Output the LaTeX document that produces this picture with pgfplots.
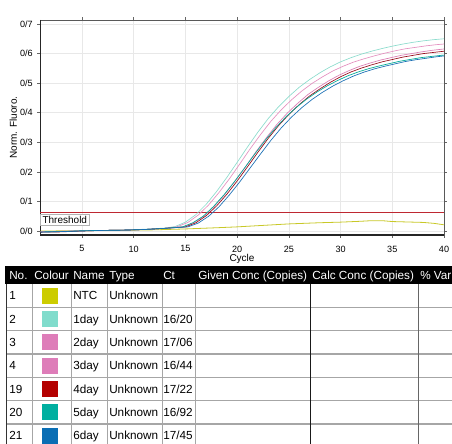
\documentclass[border=0pt]{standalone}
\usepackage{pgfplots}
\pgfplotsset{compat=1.18}
\usepackage{fontspec}
\setmainfont{Liberation Sans}

\definecolor{ntc}{RGB}{200,200,40}
\definecolor{d1}{RGB}{140,220,205}
\definecolor{d2}{RGB}{220,125,180}
\definecolor{d3}{RGB}{228,145,192}
\definecolor{d4}{RGB}{150,10,25}
\definecolor{d5}{RGB}{0,170,150}
\definecolor{d6}{RGB}{25,110,180}
\definecolor{thr}{RGB}{190,40,50}
\definecolor{sw1}{RGB}{204,204,0}
\definecolor{sw2}{RGB}{128,220,204}
\definecolor{sw3}{RGB}{222,125,185}
\definecolor{sw4}{RGB}{180,0,0}
\definecolor{sw5}{RGB}{0,175,160}
\definecolor{sw6}{RGB}{10,110,180}

\newcommand{\tabfont}{\fontsize{8.8}{10}\selectfont}
\newcommand{\tabrow}[5]{%
  \pgfmathsetmacro\yc{295.6+23.33*(#1-1)}%
  \node[anchor=base west] at (9,\yc+4.2) {#2};
  \fill[#3] (42,\yc-8) rectangle (58,\yc+8);
  \node[anchor=base west] at (73,\yc+4.2) {#4};
  \node[anchor=base west] at (109,\yc+4.2) {Unknown};
  \node[anchor=base west] at (163,\yc+4.2) {#5};
}

\begin{document}
\begin{tikzpicture}
\path[use as bounding box] (0,0) rectangle (339pt,332.25pt);

\begin{axis}[
  at={(30pt,156pt)}, anchor=south west,
  scale only axis, width=303pt, height=161.25pt,
  xmin=0.94, xmax=40, ymin=-0.0135, ymax=0.7135,
  xtick={5,10,15,20,25,30,35,40},
  xticklabels={5,10,15,20,25,30,35,40},
  ytick={0,0.1,0.2,0.3,0.4,0.5,0.6,0.7},
  yticklabels={0/0,0/1,0/2,0/3,0/4,0/5,0/6,0/7},
  grid=major, major grid style={gray!18, line width=0.4pt},
  tick align=outside, major tick length=2pt,
  tick style={black!60, line width=0.4pt},
  axis line style={black!65, line width=0.6pt},
  ticklabel style={font=\fontsize{6.8}{8}\selectfont},
  xticklabel style={yshift=-2.5pt},
  xlabel={Cycle}, ylabel={Norm. Fluoro.},
  label style={font=\fontsize{7.5}{9}\selectfont, inner sep=0pt},
  xlabel style={at={(axis description cs:0.5,0)}, anchor=north, yshift=-14.5pt},
  ylabel style={at={([xshift=-17pt]axis description cs:0,0.5)}, anchor=south},
]
\draw[line width=1.3pt, black!85] (rel axis cs:0,1) -- (rel axis cs:0,0) -- (rel axis cs:1,0);

\addplot[thr, line width=0.7pt] coordinates {(0.94,0.064) (40,0.064)};
\node[anchor=north west, draw=gray!60, fill=white, inner sep=1.5pt,
      font=\fontsize{7.5}{9}\selectfont] at (axis cs:0.97,0.0575) {Threshold};

% NTC
\addplot[ntc, line width=0.6pt] coordinates {
(1,0.000) (5,0.001) (10,0.003) (12,0.004) (15,0.007) (18,0.011) (20,0.014)
(22,0.018) (25,0.024) (28,0.028) (30,0.030) (32,0.033) (33,0.035) (34,0.035)
(35,0.032) (37,0.030) (38,0.029) (39,0.026) (40,0.021)};

% 1day
\addplot[d1, line width=0.5pt] coordinates {
(1,-0.003) (3,-0.001) (5,0.001) (7,0.002) (9,0.003) (11,0.006) (12,0.008) (13,0.010)
(14,0.015) (15,0.030) (16,0.055) (17,0.090) (18,0.133) (19,0.181) (20,0.232)
(21,0.284) (22,0.334) (23,0.380) (24,0.420) (25,0.455) (26,0.486) (27,0.512)
(28,0.535) (29,0.555) (30,0.572) (31,0.586) (32,0.598) (33,0.608) (34,0.617)
(35,0.625) (36,0.632) (37,0.638) (38,0.643) (39,0.647) (40,0.650)};

% 3day
\addplot[d3, line width=0.5pt] coordinates {
(1,-0.002) (3,-0.001) (5,0.001) (7,0.002) (9,0.003) (11,0.005) (13,0.009)
(14.24,0.015) (15.24,0.029) (16.24,0.054) (17.24,0.088) (18.24,0.130) (19.24,0.176)
(20.24,0.226) (21.24,0.277) (22.24,0.325) (23.24,0.370) (24.24,0.409) (25.24,0.443)
(26.24,0.473) (27.24,0.499) (28.24,0.521) (29.24,0.541) (30.24,0.557) (31.24,0.571)
(32.24,0.582) (33.24,0.592) (34.24,0.601) (35.24,0.609) (36.24,0.616) (37.24,0.621)
(38.24,0.626) (39.24,0.630) (40.24,0.633)};

% 2day
\addplot[d2, line width=0.5pt] coordinates {
(1,-0.002) (3,-0.001) (5,0.001) (7,0.002) (9,0.003) (11,0.005) (13,0.009)
(14.86,0.014) (15.86,0.029) (16.86,0.052) (17.86,0.086) (18.86,0.126) (19.86,0.172)
(20.86,0.220) (21.86,0.270) (22.86,0.317) (23.86,0.361) (24.86,0.399) (25.86,0.432)
(26.86,0.462) (27.86,0.486) (28.86,0.508) (29.86,0.527) (30.86,0.543) (31.86,0.557)
(32.86,0.568) (33.86,0.578) (34.86,0.586) (35.86,0.594) (36.86,0.600) (37.86,0.606)
(38.86,0.611) (39.86,0.615) (40.86,0.618)};

% 4day
\addplot[d4, line width=0.5pt] coordinates {
(1,-0.004) (3,-0.003) (5,0.000) (7,0.002) (9,0.003) (11,0.005) (13,0.009)
(15.02,0.014) (16.02,0.028) (17.02,0.052) (18.02,0.085) (19.02,0.125) (20.02,0.170)
(21.02,0.218) (22.02,0.267) (23.02,0.314) (24.02,0.357) (25.02,0.395) (26.02,0.428)
(27.02,0.457) (28.02,0.481) (29.02,0.503) (30.02,0.522) (31.02,0.538) (32.02,0.551)
(33.02,0.562) (34.02,0.572) (35.02,0.580) (36.02,0.588) (37.02,0.594) (38.02,0.600)
(39.02,0.604) (40.02,0.608)};

% 5day
\addplot[d5, line width=0.5pt] coordinates {
(1,-0.003) (3,-0.002) (5,0.001) (7,0.002) (9,0.003) (11,0.005) (13,0.009)
(14.72,0.014) (15.72,0.028) (16.72,0.050) (17.72,0.083) (18.72,0.122) (19.72,0.166)
(20.72,0.213) (21.72,0.261) (22.72,0.307) (23.72,0.349) (24.72,0.386) (25.72,0.418)
(26.72,0.446) (27.72,0.470) (28.72,0.491) (29.72,0.509) (30.72,0.525) (31.72,0.538)
(32.72,0.549) (33.72,0.558) (34.72,0.566) (35.72,0.574) (36.72,0.580) (37.72,0.586)
(38.72,0.590) (39.72,0.594) (40.72,0.597)};

% 6day
\addplot[d6, line width=0.5pt] coordinates {
(1,-0.004) (3,-0.002) (5,0.000) (7,0.002) (9,0.003) (11,0.005) (13,0.009)
(15.25,0.014) (16.25,0.027) (17.25,0.050) (18.25,0.082) (19.25,0.122) (20.25,0.166)
(21.25,0.213) (22.25,0.260) (23.25,0.306) (24.25,0.348) (25.25,0.385) (26.25,0.417)
(27.25,0.445) (28.25,0.469) (29.25,0.490) (30.25,0.508) (31.25,0.524) (32.25,0.537)
(33.25,0.548) (34.25,0.557) (35.25,0.565) (36.25,0.573) (37.25,0.579) (38.25,0.584)
(39.25,0.589) (40.25,0.593)};
\end{axis}

% results table
\begin{scope}[shift={(0,332.25pt)}, x=0.75pt, y=-0.75pt, font=\tabfont, every node/.style={inner sep=0pt}]
\fill[black] (5,266) rectangle (460,284);
\begin{scope}[text=white]
\node[anchor=base west] at (9,279) {No.};
\node[anchor=base west] at (34,279) {Colour};
\node[anchor=base west] at (73,279) {Name};
\node[anchor=base west] at (109,279) {Type};
\node[anchor=base west] at (163,279) {Ct};
\node[anchor=base west] at (198,279) {Given Conc (Copies)};
\node[anchor=base west] at (312,279) {Calc Conc (Copies)};
\node[anchor=base west] at (420,279) {\% Var};
\end{scope}
\foreach \y in {307.3,330.6,354,377.3,400.6,424}
  \draw[gray!70, line width=0.9pt] (6,\y) -- (460,\y);
\foreach \x in {32,71,107,162,195}
  \draw[gray!70, line width=0.6pt] (\x,284) -- (\x,450);
\draw[black!80, line width=0.6pt] (6,284) -- (6,450);
\draw[black!90, line width=0.7pt] (310,284) -- (310,450);
\draw[black!60, line width=0.7pt] (418,284) -- (418,450);
\tabrow{1}{1}{sw1}{NTC}{}
\tabrow{2}{2}{sw2}{1day}{16/20}
\tabrow{3}{3}{sw3}{2day}{17/06}
\tabrow{4}{4}{sw3}{3day}{16/44}
\tabrow{5}{19}{sw4}{4day}{17/22}
\tabrow{6}{20}{sw5}{5day}{16/92}
\tabrow{7}{21}{sw6}{6day}{17/45}
\end{scope}
\end{tikzpicture}
\end{document}
